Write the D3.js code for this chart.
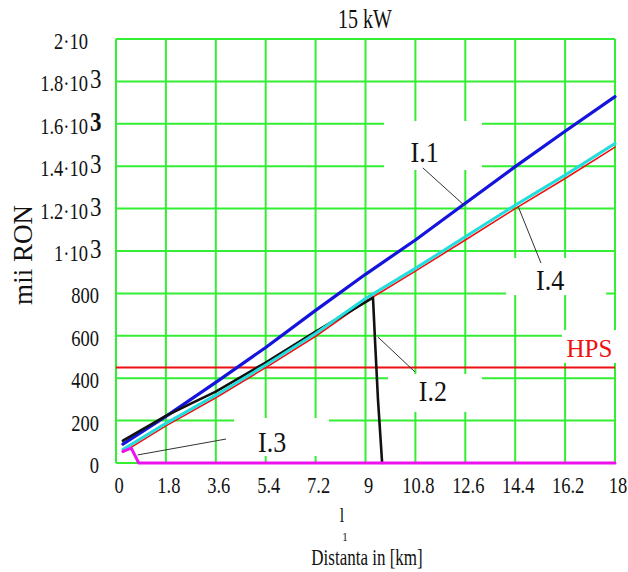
<!DOCTYPE html>
<html>
<head>
<meta charset="utf-8">
<script src="https://cdn.jsdelivr.net/npm/d3@7"></script>
<style>
  body { margin: 0; background: #fff; }
  text { font-family: "Liberation Serif", "Times New Roman", serif; fill: #111; }
</style>
</head>
<body>
<script>
// values (distance in km, cost in thousands RON)
var xTicks = [0, 1.8, 3.6, 5.4, 7.2, 9, 10.8, 12.6, 14.4, 16.2, 18];
var xTickLabels = ["0", "1.8", "3.6", "5.4", "7.2", "9", "10.8", "12.6", "14.4", "16.2", "18"];
var yTicks = [0, 200, 400, 600, 800, 1000, 1200, 1400, 1600, 1800, 2000];
var yTickLabels = ["0", "200", "400", "600", "800", "1\u00b710", "1.2\u00b710", "1.4\u00b710", "1.6\u00b710", "1.8\u00b710", "2\u00b710"];
var yTickExp = ["", "", "", "", "", "3", "3", "3", "3", "3", ""];

var distI1 = [0.25, 1.8, 3.6, 5.4, 7.2, 9, 10.8, 12.6, 14.4, 16.2, 18];
var costI1 = [89, 220, 380, 545, 720, 890, 1052, 1225, 1398, 1565, 1728];
var distI2 = [0.25, 1.8, 2.7, 3.6, 5.4, 7.2, 8.5, 9.27, 9.35, 9.45, 9.6];
var costI2 = [105, 222, 280, 337, 474, 620, 720, 780, 560, 300, 0];
var distI3 = [0.25, 0.55, 0.82, 18];
var costI3 = [55, 70, 0, 0];
var distI4 = [0.25, 1.8, 3.6, 5.4, 7.2, 9, 10.8, 12.6, 14.4, 16.2, 18];
var costI4 = [64, 187, 320, 462, 611, 776, 918, 1067, 1216, 1358, 1507];
var distRed = [0.25, 1.8, 3.6, 5.4, 7.2, 9, 10.8, 12.6, 14.4, 16.2, 18];
var costRed = [50, 175, 308, 450, 598, 762, 905, 1052, 1200, 1342, 1490];
var hpsCost = 450;

var width = 628;
var height = 572;

var x = d3.scaleLinear().domain([0, 18]).range([116, 615]);
var y = d3.scaleLinear().domain([0, 2000]).range([463, 39]);

var svg = d3.select("body").append("svg")
    .attr("xmlns", "http://www.w3.org/2000/svg")
    .attr("width", width)
    .attr("height", height);

// stretched serif text, like the old bitmap
function label(g, txt, px, py, size, anchor, sy) {
    return g.append("text")
        .attr("transform", "translate(" + px + "," + py + ") scale(1," + (sy || 1) + ")")
        .attr("font-size", size)
        .attr("text-anchor", anchor || "middle")
        .text(txt);
}

// grid
svg.append("g").selectAll("line")
    .data(xTicks)
    .enter().append("line")
    .attr("x1", d => x(d)).attr("x2", d => x(d))
    .attr("y1", y(0)).attr("y2", y(2000))
    .attr("stroke", "#33ee33").attr("stroke-width", 2);
svg.append("g").selectAll("line")
    .data(yTicks)
    .enter().append("line")
    .attr("x1", x(0)).attr("x2", x(18))
    .attr("y1", d => y(d)).attr("y2", d => y(d))
    .attr("stroke", "#33ee33").attr("stroke-width", 2);

// white label boxes cut the grid
var boxes = [
    { x0: 9.67, x1: 13.2, y0: 1613, y1: 1382 },
    { x0: 14.07, x1: 17.68, y0: 967, y1: 792 },
    { x0: 9.81, x1: 13.2, y0: 420, y1: 241 },
    { x0: 4.26, x1: 7.68, y0: 212, y1: 33 },
    { x0: 16.09, x1: 18.2, y0: 627, y1: 472 }
];
svg.append("g").selectAll("rect")
    .data(boxes)
    .enter().append("rect")
    .attr("x", d => x(d.x0)).attr("y", d => y(d.y0))
    .attr("width", d => x(d.x1) - x(d.x0))
    .attr("height", d => y(d.y1) - y(d.y0))
    .attr("fill", "#fff");

// series
var line = d3.line().x(d => x(d[0])).y(d => y(d[1]));
function series(dist, cost, color, w) {
    svg.append("path")
        .attr("d", line(d3.zip(dist, cost)))
        .attr("fill", "none")
        .attr("stroke", color)
        .attr("stroke-width", w)
        .attr("stroke-linejoin", "round")
        .attr("stroke-linecap", "round");
}

svg.append("line")
    .attr("x1", x(0)).attr("x2", x(18))
    .attr("y1", y(hpsCost)).attr("y2", y(hpsCost))
    .attr("stroke", "#ee1111").attr("stroke-width", 2);

series(distRed, costRed, "#ee1111", 1.6);
series(distI1, costI1, "#1414dd", 3.2);
series(distI2, costI2, "#111", 2.6);
series(distI4, costI4, "#22dddd", 3);
series(distI3, costI3, "#ee11ee", 3);

// leaders and annotations
var notes = [
    { t: "I.1", tx: 11.13, ty: 1420, lx0: 11.07, ly0: 1392, lx1: 12.55, ly1: 1217 },
    { t: "I.4", tx: 15.66, ty: 816, lx0: 15.33, ly0: 943, lx1: 14.5, ly1: 1212 },
    { t: "I.2", tx: 11.43, ty: 292, lx0: 9.45, ly0: 594, lx1: 10.79, ly1: 429 },
    { t: "I.3", tx: 5.63, ty: 52, lx0: 0.78, ly0: 38, lx1: 3.97, ly1: 113 }
];
svg.append("g").selectAll("line")
    .data(notes)
    .enter().append("line")
    .attr("x1", d => x(d.lx0)).attr("y1", d => y(d.ly0))
    .attr("x2", d => x(d.lx1)).attr("y2", d => y(d.ly1))
    .attr("stroke", "#333").attr("stroke-width", 1);
var gn = svg.append("g");
notes.forEach(function (d) {
    label(gn, d.t, x(d.tx), y(d.ty), 26, "middle", 1.15);
});
label(svg, "HPS", x(17.08), y(500), 25, "middle").style("fill", "#ee1111");

// axes labels
var gy = svg.append("g");
yTicks.forEach(function (d, i) {
    var px = yTickExp[i] || i == 10 ? 88 : 99;
    label(gy, yTickLabels[i], px, y(d) + 10, 18.5, "end", 1.27);
    if (yTickExp[i]) {
        label(gy, yTickExp[i], 90, y(d) + 7, 23, "start", 1.2)
            .attr("font-weight", i == 8 ? "bold" : null);
    }
});
var gx = svg.append("g");
xTicks.forEach(function (d, i) {
    label(gx, xTickLabels[i], x(d) + 3, 493, 18.5, "middle", 1.27);
});

label(svg, "15 kW", 365, 28, 20, "middle", 1.35);
svg.append("text")
    .attr("transform", "translate(32,255) rotate(-90)")
    .attr("font-size", 27)
    .attr("text-anchor", "middle")
    .text("mii RON");
label(svg, "l", 342, 522, 16, "middle", 1.25);
label(svg, "1", 345, 541, 11, "middle", 1.1);
label(svg, "Distanta in [km]", 367, 565, 17, "middle", 1.3);
</script>
</body>
</html>
